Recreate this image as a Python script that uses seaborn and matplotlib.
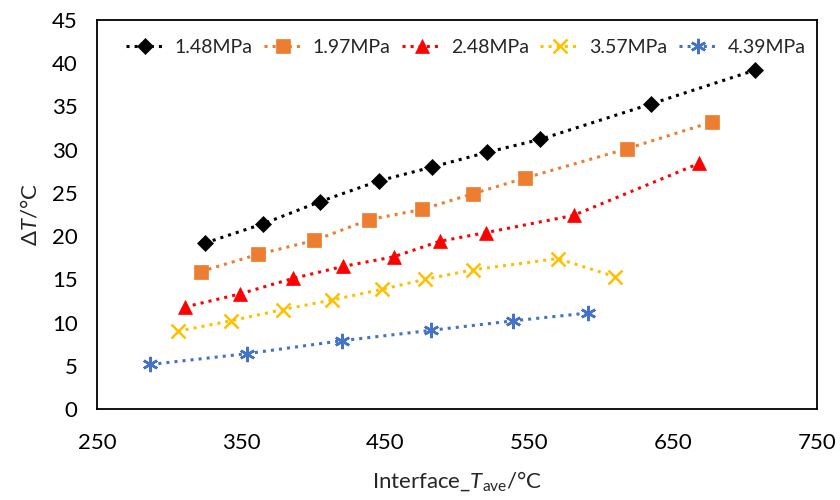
import matplotlib
matplotlib.use("Agg")
import matplotlib.pyplot as plt
import seaborn as sns
import pandas as pd

# values
t_148 = [325, 365, 405, 446, 483, 521, 558, 635, 707]
dt_148 = [19.2, 21.4, 24.0, 26.4, 28.0, 29.7, 31.2, 35.3, 39.2]

t_197 = [322, 362, 401, 439, 476, 511, 547, 618, 677]
dt_197 = [15.9, 17.9, 19.5, 21.9, 23.1, 24.9, 26.7, 30.1, 33.2]

t_248 = [311, 349, 386, 421, 456, 488, 520, 581, 668]
dt_248 = [11.8, 13.3, 15.1, 16.5, 17.6, 19.4, 20.4, 22.4, 28.4]

t_357 = [306, 343, 379, 413, 448, 478, 511, 570, 610]
dt_357 = [9.0, 10.2, 11.5, 12.6, 13.85, 15.0, 16.1, 17.4, 15.3]

t_439 = [287, 354, 420, 482, 539, 591]
dt_439 = [5.15, 6.4, 7.9, 9.1, 10.2, 11.1]

labels = ["1.48MPa", "1.97MPa", "2.48MPa", "3.57MPa", "4.39MPa"]
colors = ["#000000", "#ED7D31", "#FF0000", "#FFC000", "#4472C4"]
markers = ["D", "s", "^", "x", (6, 2, 0)]
msizes = [8, 10, 10, 10, 11]

series = [(t_148, dt_148), (t_197, dt_197), (t_248, dt_248),
          (t_357, dt_357), (t_439, dt_439)]

sns.set_style("white")
plt.rcParams["font.family"] = ["Lato", "DejaVu Sans"]
plt.rcParams["mathtext.fontset"] = "custom"
plt.rcParams["mathtext.rm"] = "Lato"
plt.rcParams["mathtext.it"] = "Lato:italic"

fig = plt.figure(figsize=(8.4, 5), dpi=100)
ax = fig.add_axes([0.1155, 0.182, 0.857, 0.778])

for (x, y), lab, c, m, ms in zip(series, labels, colors, markers, msizes):
    df = pd.DataFrame({"T": x, "dT": y})
    sns.lineplot(data=df, x="T", y="dT", ax=ax, color=c, linestyle=":",
                 linewidth=2.2, marker=m, markersize=ms,
                 markeredgecolor=c, markeredgewidth=1.8 if m in ("x", (6, 2, 0)) else 0.5,
                 label=lab, sort=False)

ax.set_xlim(250, 750)
ax.set_ylim(0, 45)
ax.set_xticks([250, 350, 450, 550, 650, 750])
ax.set_yticks(range(0, 46, 5))

for s in ax.spines.values():
    s.set_color("black")
    s.set_linewidth(1.3)

ax.tick_params(axis="both", direction="in", length=7, width=1.3,
               colors="black", labelsize=16)
ax.tick_params(axis="x", pad=17)
ax.tick_params(axis="y", pad=14)
ax.set_xlabel(r"Interface_$\mathit{T}_{\rm ave}$/°C", fontsize=16, labelpad=12)
ax.set_ylabel(r"Δ$\mathit{T}$/°C", fontsize=16, labelpad=8)

ax.legend(loc="center", bbox_to_anchor=(0.512, 0.93), ncol=5, frameon=False,
          fontsize=14, handlelength=2.0, handletextpad=0.5, columnspacing=0.6,
          borderaxespad=0)

fig.savefig("out.png", dpi=100)
